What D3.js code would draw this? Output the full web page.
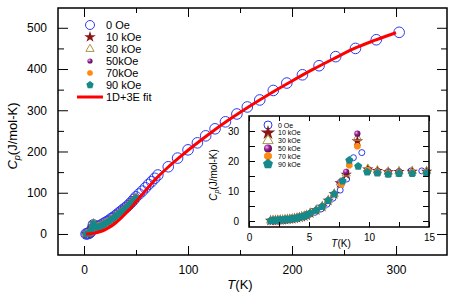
<!DOCTYPE html>
<html>
<head>
<meta charset="utf-8">
<script src="https://cdn.jsdelivr.net/npm/d3@7"></script>
<style>
body { margin: 0; background: #fff; }
text { font-family: "Liberation Sans", Arial, sans-serif; }
</style>
</head>
<body>
<div id="chart"></div>
<script>
// ---- data ----
// main panel, 0 Oe (open circles)
var mainT0 = [2, 3, 4, 5, 6, 7, 8, 9, 10, 12, 14, 16, 18, 20, 22, 24, 26, 28, 30, 32, 34, 36, 38, 40, 42, 44, 46, 48, 50,
  53, 56, 59, 62, 65, 68, 71, 81, 90, 100, 109, 117, 126, 136, 147, 157, 169, 182, 195, 210, 226, 242, 261, 281, 303];
var mainCp0 = [0.2, 0.5, 1, 2, 4, 8, 13, 22, 17, 17, 19, 21, 24, 27, 30, 33, 37, 40, 44, 48, 52, 56, 60, 64, 68, 73, 78, 84, 90,
  97, 104, 112, 120, 127, 135, 143, 163, 184, 204, 221, 238, 255, 272, 291, 308, 325, 348, 366, 386, 408, 430, 450, 471, 489];

// main panel, in-field data (all fields overlap at this scale)
var fieldT = [2, 3, 4, 5, 6, 7, 8, 8.5, 9, 10, 11, 12, 13, 14, 15, 16, 17, 18, 19, 20, 22, 24, 26, 28, 30, 32, 34, 36, 38, 40, 42, 44, 46, 48, 50];
var fieldCp = [0.1, 0.4, 1, 2.3, 4.5, 8.5, 14, 19, 26, 17, 16.5, 16.5, 17, 17.5, 18, 19, 20.5, 22, 23.5, 25, 28, 31, 35, 38, 42, 46, 50, 54, 58, 63, 67, 72, 77, 82, 88];

// 1D+3E fit
var fitT = [2, 5, 10, 15, 20, 25, 30, 35, 40, 45, 50, 60, 70, 80, 90, 100, 120, 140, 160, 180, 200, 220, 240, 260, 280, 300];
var fitCp = [0, 0.3, 2, 5, 10, 17, 26, 37, 50, 63, 78, 108, 136, 160, 182, 203, 242, 278, 311, 342, 371, 399, 425, 450, 470, 488];

// inset, 0 Oe
var insetT0 = [2, 2.5, 3, 3.5, 4, 4.5, 5, 5.5, 6, 6.5, 7, 7.6, 8.14, 8.7, 9.4, 9.94, 10.7, 11.6, 12.5, 13.5, 14.4];
var insetCp0 = [0.1, 0.2, 0.4, 0.7, 1.0, 1.5, 2.1, 2.9, 4.0, 5.6, 7.6, 10.3, 14.0, 21.1, 22.8, 17.2, 16.7, 16.5, 16.5, 16.7, 16.7];

// inset, low-temperature part shared by all in-field curves
var lowT = [1.8, 2.0, 2.2, 2.4, 2.6, 2.8, 3.0, 3.2, 3.4, 3.6, 3.8, 4.0, 4.2, 4.4, 4.6, 4.8, 5.1, 5.6, 6.1, 6.6, 7.1];
var lowCp = [0.1, 0.15, 0.2, 0.25, 0.3, 0.35, 0.45, 0.5, 0.6, 0.7, 0.85, 1.0, 1.2, 1.4, 1.6, 1.9, 2.6, 3.6, 4.8, 6.8, 9.0];

// inset, transition region per field
var peakT10 = [7.6, 8.1, 9.03, 9.9, 10.7, 11.6, 12.5, 13.6, 14.8];
var peakCp10 = [12.6, 15.5, 26.6, 17.2, 16.7, 16.3, 16.4, 16.5, 16.5];
var peakT30 = [7.6, 8.1, 9.03, 9.9, 10.7, 11.6, 12.5, 13.6, 14.8];
var peakCp30 = [12.8, 15.8, 27.7, 17.4, 16.8, 16.4, 16.5, 16.6, 16.6];
var peakT50 = [7.6, 8.1, 9.03, 9.9, 10.7, 11.6, 12.5, 13.6, 14.8];
var peakCp50 = [13.0, 16.4, 29.1, 17.0, 16.6, 16.2, 16.3, 16.4, 16.4];
var peakT70 = [7.7, 8.36, 9.03, 9.9, 10.7, 11.6, 12.5, 13.6, 14.8];
var peakCp70 = [12.2, 18.6, 24.9, 16.9, 16.4, 16.0, 16.1, 16.2, 16.2];
var peakT90 = [7.8, 8.36, 9.1, 9.85, 10.7, 11.6, 12.5, 13.6, 14.8];
var peakCp90 = [13.3, 20.2, 18.2, 16.3, 16.0, 15.6, 15.8, 15.8, 16.0];

var mainLabels = ["0 Oe", "10 kOe", "30 kOe", "50kOe", "70kOe", "90 kOe"];
var insetLabels = ["0 Oe", "10 kOe", "30 kOe", "50 kOe", "70 kOe", "90 kOe"];
var fitLabel = "1D+3E fit";

var mainXTicks = [0, 100, 200, 300];
var mainXMinor = [50, 150, 250];
var mainYTicks = [0, 100, 200, 300, 400, 500];
var mainYMinor = [50, 150, 250, 350, 450];
var insetXTicks = [0, 2.5, 5, 7.5, 10, 12.5, 15];
var insetYTicks = [0, 5, 10, 15, 20, 25, 30];

// ---- layout ----
var svgWidth = 463, svgHeight = 300;
var main = {left: 58, right: 447, top: 8, bottom: 255};
var inset = {left: 249, right: 429, top: 116, bottom: 227};

var svg = d3.select("#chart").append("svg")
  .attr("width", svgWidth)
  .attr("height", svgHeight);

var defs = svg.append("defs");
var grad = defs.append("radialGradient").attr("id", "sphere")
  .attr("cx", "35%").attr("cy", "35%").attr("r", "70%");
grad.append("stop").attr("offset", "0%").attr("stop-color", "#f0b8f0");
grad.append("stop").attr("offset", "45%").attr("stop-color", "#961e96");
grad.append("stop").attr("offset", "100%").attr("stop-color", "#4a0a4a");

// custom symbol types
function polygonSymbol(n, rot) {
  return {
    draw: function(ctx, size) {
      var r = Math.sqrt(size / Math.PI) * 1.08;
      for (var i = 0; i < n; i++) {
        var a = rot + i * 2 * Math.PI / n;
        if (i) ctx.lineTo(r * Math.cos(a), r * Math.sin(a));
        else ctx.moveTo(r * Math.cos(a), r * Math.sin(a));
      }
      ctx.closePath();
    }
  };
}
var symbolPentagon = polygonSymbol(5, -Math.PI / 2);
var symbolOctagon = polygonSymbol(8, Math.PI / 8);

// marker styles (0 Oe, 10, 30, 50, 70, 90 kOe)
var styles = [
  {type: d3.symbolCircle, fill: "none", stroke: "#2b3cf0", k: 1.0},
  {type: d3.symbolStar, fill: "#8b1515", stroke: "none", k: 1.0},
  {type: d3.symbolTriangle, fill: "none", stroke: "#a8964a", k: 0.9},
  {type: d3.symbolCircle, fill: "url(#sphere)", stroke: "none", k: 1.0},
  {type: symbolOctagon, fill: "#ff8a12", stroke: "none", k: 1.0},
  {type: symbolPentagon, fill: "#16898a", stroke: "none", k: 1.1}
];

function symPath(i, r) {
  var s = styles[i];
  return d3.symbol().type(s.type).size(Math.PI * r * r * s.k * s.k)();
}

function drawMarkers(g, xs, ys, T, Cp, i, r) {
  var pts = T.map(function(t, j) { return {t: t, c: Cp[j]}; });
  g.append("g").selectAll("path")
    .data(pts)
    .enter()
    .append("path")
    .attr("transform", d => `translate(${xs(d.t)},${ys(d.c)})`)
    .attr("d", symPath(i, r))
    .attr("fill", styles[i].fill)
    .attr("stroke", styles[i].stroke)
    .attr("stroke-width", 1);
}

function addAxis(g, axis, transform, fontSize) {
  var a = g.append("g").attr("transform", transform).call(axis);
  a.select(".domain").remove();
  a.attr("font-size", fontSize).attr("font-family", "Liberation Sans, Arial, sans-serif");
  a.selectAll("line").attr("stroke", "#000");
  return a;
}

// ---- main panel ----
var xMain = d3.scaleLinear().domain([-25, 349]).range([main.left, main.right]);
var yMain = d3.scaleLinear().domain([-51, 548]).range([main.bottom, main.top]);

var mainG = svg.append("g");

drawMarkers(mainG, xMain, yMain, mainT0, mainCp0, 0, 5.3);
for (var i = 1; i <= 5; i++) {
  drawMarkers(mainG, xMain, yMain, fieldT, fieldCp, i, 3.2);
}

var fitLine = d3.line()
  .x((d, j) => xMain(fitT[j]))
  .y(d => yMain(d))
  .curve(d3.curveMonotoneX);

mainG.append("path")
  .attr("d", fitLine(fitCp))
  .attr("fill", "none")
  .attr("stroke", "#ff0000")
  .attr("stroke-width", 3);

// axes (ticks point inward)
addAxis(svg, d3.axisBottom(xMain).tickValues(mainXTicks).tickSize(-9).tickPadding(10), `translate(0,${main.bottom})`, 12);
addAxis(svg, d3.axisBottom(xMain).tickValues(mainXMinor).tickSize(-5).tickFormat(""), `translate(0,${main.bottom})`, 12);
addAxis(svg, d3.axisTop(xMain).tickValues(mainXTicks).tickSize(-9).tickFormat(""), `translate(0,${main.top})`, 12);
addAxis(svg, d3.axisTop(xMain).tickValues(mainXMinor).tickSize(-5).tickFormat(""), `translate(0,${main.top})`, 12);
addAxis(svg, d3.axisLeft(yMain).tickValues(mainYTicks).tickSize(-10).tickPadding(11), `translate(${main.left},0)`, 12);
addAxis(svg, d3.axisLeft(yMain).tickValues(mainYMinor).tickSize(-6).tickFormat(""), `translate(${main.left},0)`, 12);
addAxis(svg, d3.axisRight(yMain).tickValues(mainYTicks).tickSize(-10).tickFormat(""), `translate(${main.right},0)`, 12);
addAxis(svg, d3.axisRight(yMain).tickValues(mainYMinor).tickSize(-6).tickFormat(""), `translate(${main.right},0)`, 12);

svg.append("rect")
  .attr("x", main.left).attr("y", main.top)
  .attr("width", main.right - main.left).attr("height", main.bottom - main.top)
  .attr("fill", "none").attr("stroke", "#000").attr("stroke-width", 1.5);

// axis titles
var xt = svg.append("text")
  .attr("x", 240).attr("y", 289)
  .attr("text-anchor", "middle")
  .attr("font-size", 13);
xt.append("tspan").attr("font-style", "italic").text("T");
xt.append("tspan").text("(K)");

var yt = svg.append("text")
  .attr("transform", "translate(17,136) rotate(-90)")
  .attr("text-anchor", "middle")
  .attr("font-size", 13);
yt.append("tspan").attr("font-style", "italic").text("C");
yt.append("tspan").attr("font-style", "italic").attr("font-size", 9).attr("dy", 3).text("p");
yt.append("tspan").attr("dy", -3).text("(J/mol-K)");

// main legend
var legMain = svg.append("g");
var legMainR = [4.5, 3.6, 3.4, 2.6, 2.8, 3.3];
mainLabels.forEach(function(lab, j) {
  var yy = 25 + j * 12;
  legMain.append("path")
    .attr("transform", `translate(90,${yy})`)
    .attr("d", symPath(j, legMainR[j]))
    .attr("fill", styles[j].fill)
    .attr("stroke", styles[j].stroke)
    .attr("stroke-width", 1);
  legMain.append("text")
    .attr("x", 106).attr("y", yy + 4)
    .attr("font-size", 11)
    .text(lab);
});
legMain.append("line")
  .attr("x1", 77).attr("x2", 103)
  .attr("y1", 97).attr("y2", 97)
  .attr("stroke", "#ff0000").attr("stroke-width", 3);
legMain.append("text")
  .attr("x", 106).attr("y", 101)
  .attr("font-size", 11)
  .text(fitLabel);

// ---- inset ----
var xIn = d3.scaleLinear().domain([0, 15]).range([inset.left, inset.right]);
var yIn = d3.scaleLinear().domain([-2, 35]).range([inset.bottom, inset.top]);

svg.append("rect")
  .attr("x", inset.left).attr("y", inset.top)
  .attr("width", inset.right - inset.left).attr("height", inset.bottom - inset.top)
  .attr("fill", "#fff");

var inG = svg.append("g");
var peaks = [null, [peakT10, peakCp10], [peakT30, peakCp30], [peakT50, peakCp50], [peakT70, peakCp70], [peakT90, peakCp90]];
var inR = [3.0, 3.6, 3.4, 3.1, 3.3, 3.6];

drawMarkers(inG, xIn, yIn, insetT0, insetCp0, 0, inR[0]);
for (var k = 1; k <= 5; k++) {
  drawMarkers(inG, xIn, yIn, lowT.concat(peaks[k][0]), lowCp.concat(peaks[k][1]), k, inR[k]);
}

addAxis(svg, d3.axisBottom(xIn).tickValues(insetXTicks).tickSize(-5).tickPadding(7)
  .tickFormat(d => d % 5 === 0 ? d : ""), `translate(0,${inset.bottom})`, 10);
addAxis(svg, d3.axisTop(xIn).tickValues(insetXTicks).tickSize(-5).tickFormat(""), `translate(0,${inset.top})`, 10);
addAxis(svg, d3.axisLeft(yIn).tickValues(insetYTicks).tickSize(-6).tickPadding(10)
  .tickFormat(d => d % 10 === 0 ? d : ""), `translate(${inset.left},0)`, 10);
addAxis(svg, d3.axisRight(yIn).tickValues(insetYTicks).tickSize(-6).tickFormat(""), `translate(${inset.right},0)`, 10);

svg.append("rect")
  .attr("x", inset.left).attr("y", inset.top)
  .attr("width", inset.right - inset.left).attr("height", inset.bottom - inset.top)
  .attr("fill", "none").attr("stroke", "#000").attr("stroke-width", 1.5);

var ixt = svg.append("text")
  .attr("x", 341).attr("y", 247)
  .attr("text-anchor", "middle")
  .attr("font-size", 10);
ixt.append("tspan").attr("font-style", "italic").text("T");
ixt.append("tspan").text("(K)");

var iyt = svg.append("text")
  .attr("transform", "translate(217,175) rotate(-90)")
  .attr("text-anchor", "middle")
  .attr("font-size", 10);
iyt.append("tspan").attr("font-style", "italic").text("C");
iyt.append("tspan").attr("font-style", "italic").attr("font-size", 7).attr("dy", 2).text("p");
iyt.append("tspan").attr("dy", -2).text("(J/mol-K)");

// inset legend
var legIn = svg.append("g");
var legInR = [4.0, 4.6, 4.3, 4.0, 3.9, 4.4];
insetLabels.forEach(function(lab, j) {
  var yy = 125 + j * 7.8;
  legIn.append("path")
    .attr("transform", `translate(268,${yy})`)
    .attr("d", symPath(j, legInR[j]))
    .attr("fill", styles[j].fill)
    .attr("stroke", styles[j].stroke)
    .attr("stroke-width", 1);
  legIn.append("text")
    .attr("x", 278).attr("y", yy + 2.5)
    .attr("font-size", 7)
    .text(lab);
});
</script>
</body>
</html>
